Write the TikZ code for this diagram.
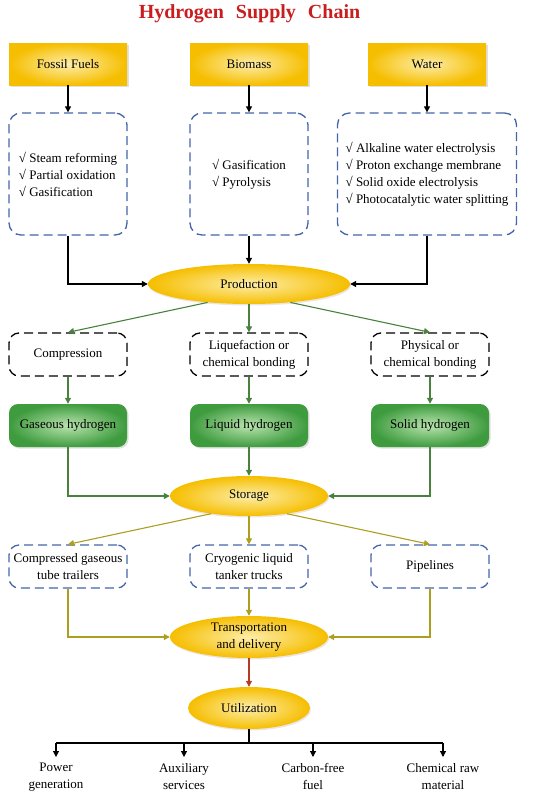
\documentclass[tikz,border=0pt]{standalone}
\usepackage{fontspec}
\setmainfont{Liberation Serif}
\usetikzlibrary{shapes.geometric,arrows.meta,positioning,shadows}
\definecolor{h2Gold}{RGB}{246,190,0}
\definecolor{h2Cream}{RGB}{253,238,170}
\definecolor{h2Green}{RGB}{62,155,62}
\definecolor{h2Mint}{RGB}{185,228,175}
\definecolor{h2Blue}{RGB}{70,100,170}
\definecolor{h2Arrow}{RGB}{72,130,60}
\definecolor{h2Olive}{RGB}{172,158,30}
\definecolor{h2Red}{RGB}{200,30,30}
\definecolor{h2Brick}{RGB}{180,60,35}
\tikzset{
  srcbox/.style={shading=radial, inner color=h2Cream, outer color=h2Gold,
    minimum width=118pt, minimum height=42pt, inner sep=0pt,
    drop shadow={shadow xshift=1.5pt, shadow yshift=-1.5pt, opacity=.3, fill=black!40}},
  bluebox/.style={draw=h2Blue, line width=1.3pt, dash pattern=on 9pt off 5pt,
    rounded corners=12pt, fill=white, minimum width=118pt, minimum height=122pt,
    inner sep=0pt, align=left},
  blackbox/.style={draw=black, line width=1.3pt, dash pattern=on 9pt off 5pt,
    rounded corners=10pt, minimum width=118pt, minimum height=43pt,
    inner sep=0pt, align=center},
  greenbox/.style={shading=radial, inner color=h2Mint, outer color=h2Green,
    rounded corners=9pt, minimum width=118pt, minimum height=43pt, inner sep=0pt,
    drop shadow={shadow xshift=1.5pt, shadow yshift=-1.5pt, opacity=.3, fill=black!40}},
  ellip/.style={ellipse, shading=radial, inner color=h2Cream, outer color=h2Gold,
    inner sep=0pt, align=center,
    drop shadow={shadow xshift=1pt, shadow yshift=-1.5pt, opacity=.25, fill=red!30!black!40}},
  usebox/.style={anchor=north, inner sep=0pt, align=center},
  arr/.style={-{Triangle[length=6pt,width=6pt]}, line width=1.1pt},
  garr/.style={arr, draw=h2Arrow},
  oarr/.style={arr, draw=h2Olive},
}
\begin{document}
\begin{tikzpicture}[x=1pt,y=-1pt,font=\fontsize{13}{17}\selectfont]
    \useasboundingbox (0,0) rectangle (550,795);

    % Title
    \node[anchor=base, font=\fontsize{20}{24}\selectfont\bfseries, text=h2Red]
        (title) at (249.5,18) {Hydrogen\hspace{12pt}Supply\hspace{12pt}Chain};

    % Sources
    \node[srcbox] (fossil) at (68,64) {Fossil Fuels};
    \node[srcbox] (bio) at (249,64) {Biomass};
    \node[srcbox] (water) at (427,64) {Water};

    % Production routes
    \node[bluebox] (fossilM) at (68,174) {√ Steam reforming\\√ Partial oxidation\\√ Gasification};
    \node[bluebox] (bioM) at (249,174) {√ Gasification\\√ Pyrolysis};
    \node[bluebox, minimum width=179pt] (waterM) at (427,174)
        {√ Alkaline water electrolysis\\√ Proton exchange membrane\\√ Solid oxide electrolysis\\√ Photocatalytic water splitting};

    \node[ellip, minimum width=202pt, minimum height=40pt] (prod) at (249,284) {Production};

    \draw[arr] (fossil) -- (fossilM);
    \draw[arr] (bio) -- (bioM);
    \draw[arr] (water) -- (waterM);
    \draw[arr] (fossilM.south) |- (prod.west);
    \draw[arr] (bioM) -- (prod);
    \draw[arr] (waterM.south) |- (prod.east);

    % Storage routes
    \node[blackbox] (compr) at (68,354.5) {Compression};
    \node[blackbox] (liquef) at (249,354.5) {Liquefaction or\\chemical bonding};
    \node[blackbox] (phys) at (430,354.5) {Physical or\\chemical bonding};

    \node[greenbox] (gas) at (68,425.5) {Gaseous hydrogen};
    \node[greenbox] (liq) at (249,425.5) {Liquid hydrogen};
    \node[greenbox] (sol) at (430,425.5) {Solid hydrogen};

    \node[ellip, minimum width=158pt, minimum height=40pt] (stor) at (249,496) {Storage};

    \draw[garr] (prod.204) -- (compr.north);
    \draw[garr] (prod) -- (liquef);
    \draw[garr] (prod.336) -- (phys.north);
    \draw[garr] (compr) -- (gas);
    \draw[garr] (liquef) -- (liq);
    \draw[garr] (phys) -- (sol);
    \draw[garr] (gas.south) |- (stor.west);
    \draw[garr] (liq) -- (stor);
    \draw[garr] (sol.south) |- (stor.east);

    % Transport modes
    \node[bluebox, minimum height=43pt, rounded corners=10pt, align=center] (tube) at (68,566.5) {Compressed gaseous\\tube trailers};
    \node[bluebox, minimum height=43pt, rounded corners=10pt, align=center] (tank) at (249,566.5) {Cryogenic liquid\\tanker trucks};
    \node[bluebox, minimum height=43pt, rounded corners=10pt, align=center] (pipe) at (430,566.5) {Pipelines};

    \node[ellip, minimum width=158pt, minimum height=42pt] (trans) at (249,637) {Transportation\\and delivery};

    \draw[oarr] (stor.205) -- (tube.north);
    \draw[oarr] (stor) -- (tank);
    \draw[oarr] (stor.335) -- (pipe.north);
    \draw[oarr] (tube.south) |- (trans.west);
    \draw[oarr] (tank) -- (trans);
    \draw[oarr] (pipe.south) |- (trans.east);

    % Utilization
    \node[ellip, minimum width=122pt, minimum height=42pt] (util) at (249,708) {Utilization};
    \draw[arr, draw=h2Brick] (trans) -- (util);

    \coordinate (fork) at (249,743);
    \node[usebox] (pow) at (56,763) {Power\\generation};
    \node[usebox] (aux) at (184,763) {Auxiliary\\services};
    \node[usebox] (fuel) at (313,763) {Carbon-free\\fuel};
    \node[usebox] (chem) at (443,763) {Chemical raw\\material};

    \draw[line width=1.1pt] (util.south) -- (fork);
    \draw[line width=1.1pt] (fork -| pow) -- (fork -| chem);
    \foreach \n in {pow,aux,fuel,chem}
        \draw[arr] (fork -| \n) -- ([yshift=6pt]\n.north);
\end{tikzpicture}
\end{document}
